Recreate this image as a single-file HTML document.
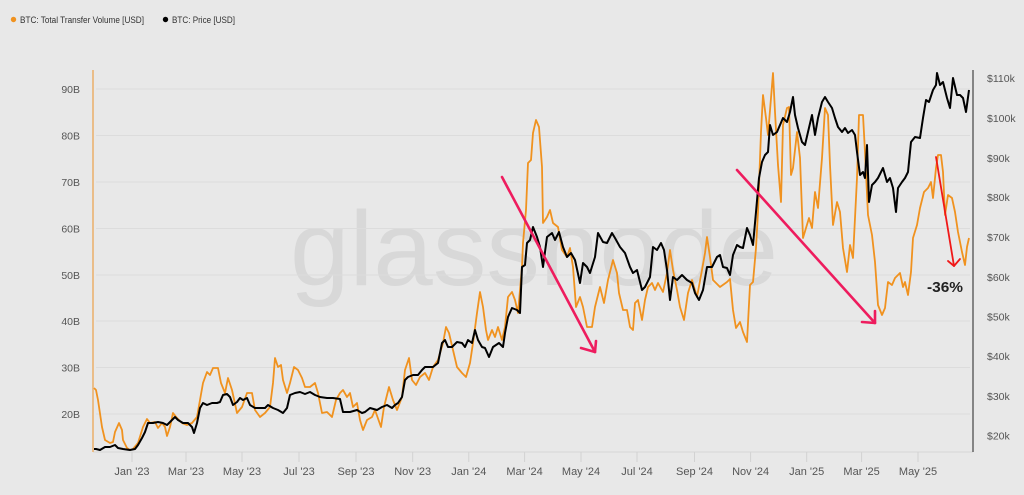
<!DOCTYPE html>
<html><head><meta charset="utf-8"><style>
html,body{margin:0;padding:0;background:#e8e8e8;}
svg{display:block;}
text{font-family:"Liberation Sans",sans-serif;}
</style></head><body>
<svg width="1024" height="495" viewBox="0 0 1024 495" xmlns="http://www.w3.org/2000/svg">
<rect width="1024" height="495" fill="#e8e8e8"/>
<!-- legend -->
<circle cx="13.5" cy="19.5" r="2.7" fill="#f0921f"/>
<text x="20" y="23" font-size="9" fill="#333" textLength="124" lengthAdjust="spacingAndGlyphs">BTC: Total Transfer Volume [USD]</text>
<circle cx="165.5" cy="19.5" r="2.7" fill="#000"/>
<text x="172" y="23" font-size="9" fill="#333" textLength="63" lengthAdjust="spacingAndGlyphs">BTC: Price [USD]</text>
<!-- watermark -->
<text x="290" y="285" font-size="106" fill="#d8d8d8" textLength="488" lengthAdjust="spacingAndGlyphs">glassnode</text>
<!-- gridlines -->
<g stroke="#dcdcdc" stroke-width="1">
<line x1="96" y1="89" x2="970" y2="89"/>
<line x1="96" y1="135.5" x2="970" y2="135.5"/>
<line x1="96" y1="182" x2="970" y2="182"/>
<line x1="96" y1="228.5" x2="970" y2="228.5"/>
<line x1="96" y1="275" x2="970" y2="275"/>
<line x1="96" y1="321" x2="970" y2="321"/>
<line x1="96" y1="367.5" x2="970" y2="367.5"/>
<line x1="96" y1="414" x2="970" y2="414"/>
</g>
<!-- bottom axis -->
<line x1="93" y1="452" x2="973" y2="452" stroke="#d6d6d6" stroke-width="1"/>
<g stroke="#d2d2d2" stroke-width="1">
<line x1="132" y1="452" x2="132" y2="462"/>
<line x1="186" y1="452" x2="186" y2="462"/>
<line x1="242" y1="452" x2="242" y2="462"/>
<line x1="299" y1="452" x2="299" y2="462"/>
<line x1="356" y1="452" x2="356" y2="462"/>
<line x1="412.7" y1="452" x2="412.7" y2="462"/>
<line x1="468.8" y1="452" x2="468.8" y2="462"/>
<line x1="524.6" y1="452" x2="524.6" y2="462"/>
<line x1="581" y1="452" x2="581" y2="462"/>
<line x1="637" y1="452" x2="637" y2="462"/>
<line x1="694.5" y1="452" x2="694.5" y2="462"/>
<line x1="750.6" y1="452" x2="750.6" y2="462"/>
<line x1="806.7" y1="452" x2="806.7" y2="462"/>
<line x1="861.6" y1="452" x2="861.6" y2="462"/>
<line x1="918" y1="452" x2="918" y2="462"/>
</g>
<g font-size="11" fill="#555" text-anchor="middle">
<text x="132" y="475">Jan '23</text>
<text x="186" y="475">Mar '23</text>
<text x="242" y="475">May '23</text>
<text x="299" y="475">Jul '23</text>
<text x="356" y="475">Sep '23</text>
<text x="412.7" y="475">Nov '23</text>
<text x="468.8" y="475">Jan '24</text>
<text x="524.6" y="475">Mar '24</text>
<text x="581" y="475">May '24</text>
<text x="637" y="475">Jul '24</text>
<text x="694.5" y="475">Sep '24</text>
<text x="750.6" y="475">Nov '24</text>
<text x="806.7" y="475">Jan '25</text>
<text x="861.6" y="475">Mar '25</text>
<text x="918" y="475">May '25</text>
</g>
<!-- left axis labels -->
<g font-size="10.5" fill="#555" text-anchor="end">
<text x="80" y="93">90B</text>
<text x="80" y="139.5">80B</text>
<text x="80" y="186">70B</text>
<text x="80" y="232.5">60B</text>
<text x="80" y="279">50B</text>
<text x="80" y="325">40B</text>
<text x="80" y="371.5">30B</text>
<text x="80" y="418">20B</text>
</g>
<!-- right axis labels -->
<g font-size="10.5" fill="#555">
<text x="987" y="82">$110k</text>
<text x="987" y="122">$100k</text>
<text x="987" y="162">$90k</text>
<text x="987" y="201">$80k</text>
<text x="987" y="241">$70k</text>
<text x="987" y="281">$60k</text>
<text x="987" y="320.5">$50k</text>
<text x="987" y="360">$40k</text>
<text x="987" y="400">$30k</text>
<text x="987" y="439.5">$20k</text>
</g>
<!-- axes lines -->
<line x1="93" y1="70" x2="93" y2="452" stroke="#ebb271" stroke-width="1.6"/>
<line x1="973" y1="70" x2="973" y2="452" stroke="#444" stroke-width="1.2"/>
<!-- orange series -->
<polyline fill="none" stroke="#f0921f" stroke-width="1.8" stroke-linejoin="round" points="94,388 96,390 98,400 102,427 105,440 110,443 113,442 115,432 119,423 122,430 123,440 127,448 130,450 133,449 138,443 143,427 147,419 150,423 155,422 158,428 162,423 165,427 167,436 170,427 173,413 177,418 182,423 187,425 192,423 197,417 200,400 203,383 207,372 210,375 213,368 218,368 221,383 225,393 228,378 232,390 237,413 242,407 247,393 252,393 255,410 260,417 265,413 270,407 273,383 275,358 278,367 281,365 283,380 287,393 290,383 294,367 298,370 302,378 305,387 310,387 315,383 318,393 322,413 327,412 332,417 336,400 340,393 343,390 347,397 350,393 353,407 357,403 360,420 363,430 367,420 372,417 375,410 381,427 384,407 389,387 393,400 397,410 402,397 405,370 409,358 412,380 416,385 420,377 425,373 429,380 433,367 438,360 443,343 446,327 449,333 453,350 457,367 462,373 466,377 470,363 473,343 477,313 480,292 483,307 486,330 488,340 492,330 495,337 498,327 502,340 505,327 508,297 512,292 515,300 518,313 522,267 523,243 526,210 528,163 531,160 533,133 536,120 539,127 542,167 543,223 547,217 550,210 553,223 558,227 562,250 567,257 570,248 573,267 576,307 580,297 583,307 587,327 592,327 595,307 600,287 604,303 608,280 613,260 617,273 619,293 623,310 627,310 630,327 633,330 635,303 638,300 642,320 645,300 648,287 652,283 655,290 658,283 663,292 667,273 670,250 673,270 677,290 680,307 684,320 688,293 692,280 697,297 702,270 705,253 707,237 710,257 713,280 720,287 727,282 730,279 733,310 736,328 740,322 743,332 747,342 750,285 753,282 756,248 758,212 761,132 763,95 766,118 768,135 771,98 773,73 775,112 778,165 781,202 783,125 787,108 789,107 791,175 793,168 797,132 800,158 803,238 806,228 809,218 812,228 815,192 818,208 822,158 825,108 828,115 830,165 833,225 837,202 840,212 843,248 847,272 850,245 853,258 857,178 859,115 863,115 865,152 868,215 872,235 875,262 878,305 882,315 885,308 888,282 892,285 895,278 900,273 903,287 905,282 908,295 911,272 913,238 917,225 920,208 924,192 928,188 931,182 933,198 936,168 938,155 941,155 943,172 945,215 948,195 952,198 955,212 958,232 962,252 965,265 967,247 969,238"/>
<!-- black series -->
<polyline fill="none" stroke="#000" stroke-width="2" stroke-linejoin="round" points="94,449 96,449 100,450 105,447 110,447 115,445 118,448 123,449 130,450 135,449 138,445 142,438 145,432 148,423 153,423 158,422 163,423 167,425 172,420 175,417 178,420 183,423 188,423 192,427 194,433 197,423 200,408 203,403 207,405 212,403 217,403 220,402 223,395 227,394 230,397 233,405 237,402 240,398 243,400 247,398 250,405 255,408 260,408 265,408 268,405 273,408 278,410 283,413 287,408 290,395 295,393 300,392 305,394 310,392 315,395 320,397 327,398 333,398 340,399 343,412 350,412 357,410 362,413 365,412 370,408 377,410 382,407 387,405 392,408 395,405 398,403 402,397 405,380 408,377 413,375 418,375 422,370 425,367 430,367 433,367 438,363 442,343 445,340 448,347 452,347 457,342 462,343 465,347 468,340 472,343 475,330 478,340 482,347 485,348 489,357 493,347 496,345 499,343 503,347 505,333 508,317 512,308 517,310 520,313 522,267 525,265 527,243 530,240 533,227 537,237 540,247 543,267 547,237 552,233 555,240 559,232 563,247 567,257 571,253 575,260 580,283 583,263 587,267 590,273 595,257 598,233 603,242 607,243 612,233 615,238 620,247 625,253 630,267 633,273 637,270 642,290 645,287 650,277 653,247 657,250 661,243 664,250 667,270 670,300 673,277 677,280 682,275 687,280 692,283 695,293 699,300 703,290 707,267 712,267 717,257 720,255 723,267 727,268 730,275 733,255 737,245 740,247 743,248 747,228 750,235 753,245 756,212 759,178 762,162 765,155 768,152 770,125 773,135 777,132 780,125 783,118 787,122 790,112 793,97 795,115 798,128 802,142 805,145 808,132 812,115 815,135 818,118 822,102 825,97 828,102 832,108 835,118 838,127 842,132 845,128 848,133 852,130 855,135 857,152 860,175 863,172 865,178 867,145 869,202 872,185 875,182 878,178 883,168 887,182 890,178 893,188 896,212 898,188 902,182 905,178 908,172 911,142 915,137 920,138 923,118 926,100 929,102 933,90 936,85 937,73 940,85 943,82 947,98 950,108 953,78 957,95 960,95 963,98 966,112 969,90"/>
<!-- arrows -->
<g stroke="#ee1c5e" stroke-width="2.6" fill="none" stroke-linecap="round" stroke-linejoin="round">
<line x1="502" y1="177" x2="595" y2="352"/>
<polyline points="581,348 595,352 596,341"/>
<line x1="737" y1="170" x2="875" y2="323"/>
<polyline points="862,322 875,323 875,311"/>
</g>
<g stroke="#f01818" stroke-width="1.8" fill="none" stroke-linecap="round" stroke-linejoin="round">
<line x1="936" y1="157" x2="954" y2="266"/>
<polyline points="948,261 954,266 960,259"/>
</g>
<text x="927" y="292" font-size="15" font-weight="bold" fill="#222" textLength="36" lengthAdjust="spacingAndGlyphs">-36%</text>
</svg>
</body></html>
